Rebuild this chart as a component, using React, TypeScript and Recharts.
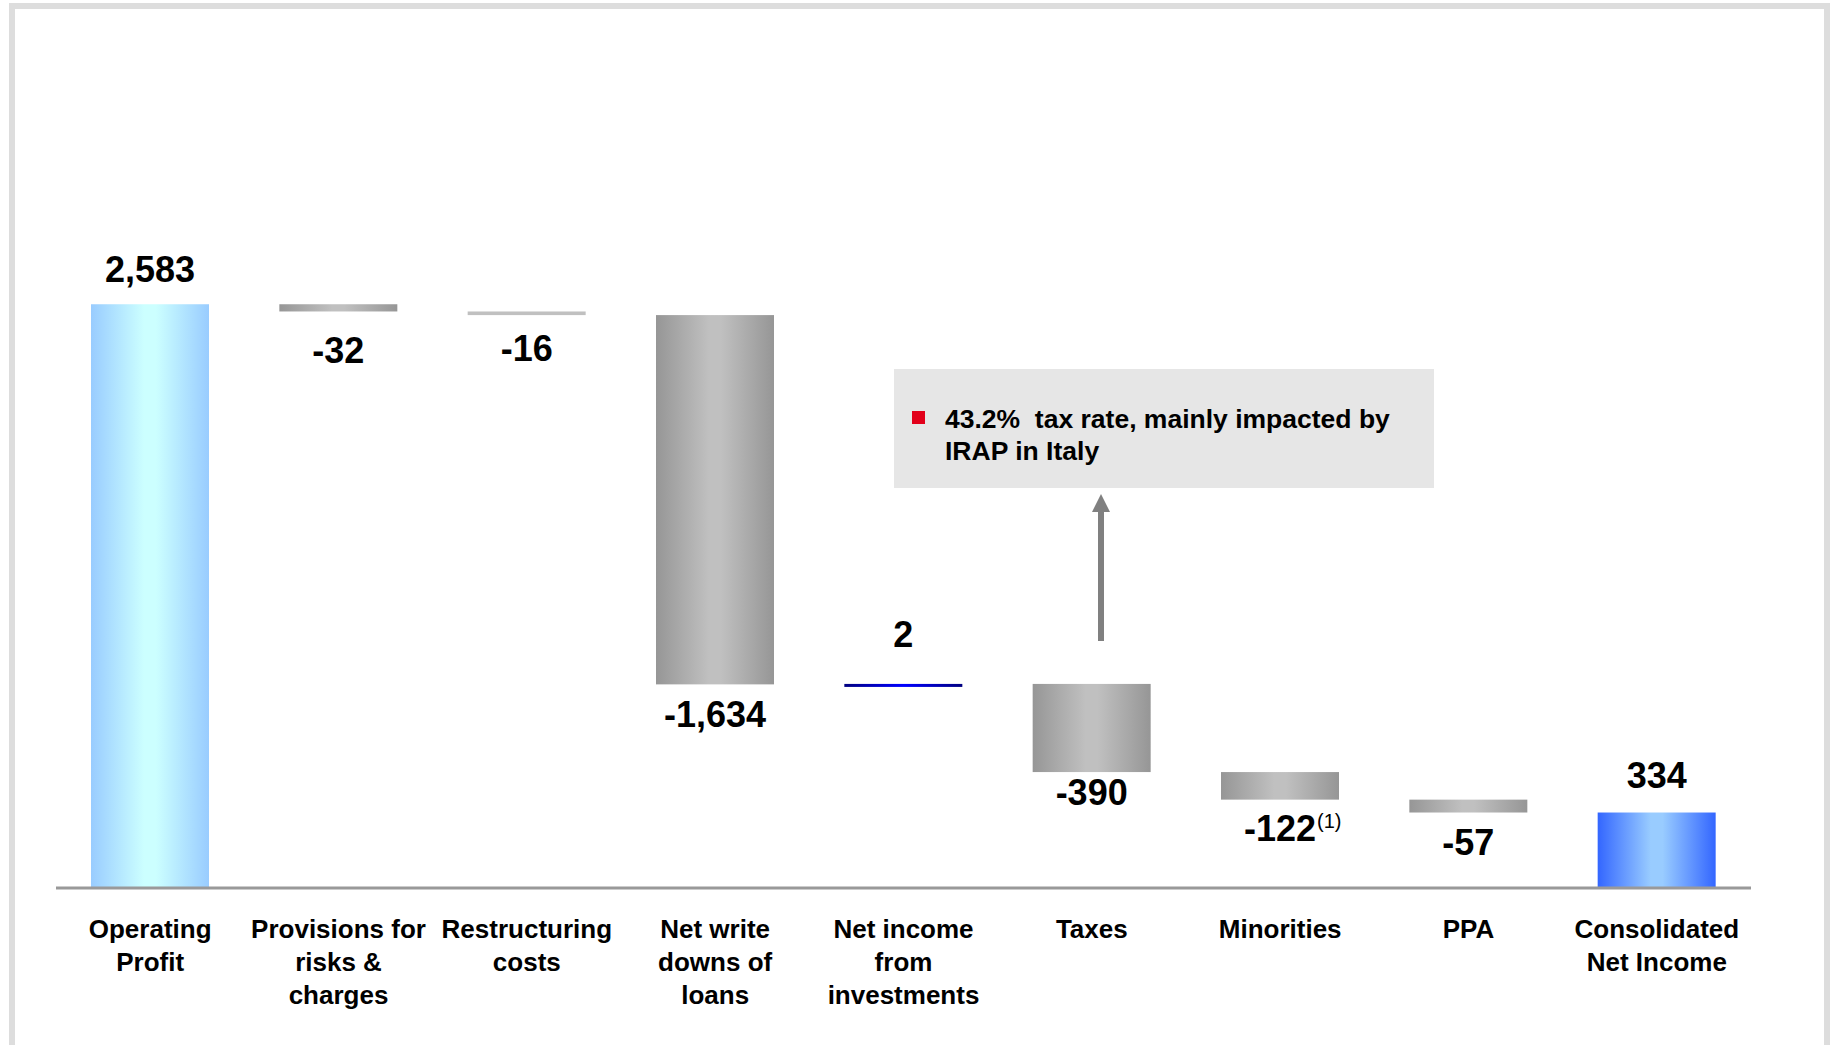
import React from "react";
import { Bar, BarChart, Cell, LabelList, XAxis, YAxis } from "recharts";

const categories = [
  "Operating\nProfit",
  "Provisions for\nrisks &\ncharges",
  "Restructuring\ncosts",
  "Net write\ndowns of\nloans",
  "Net income\nfrom\ninvestments",
  "Taxes",
  "Minorities",
  "PPA",
  "Consolidated\nNet Income",
];
const values = [2583, -32, -16, -1634, 2, -390, -122, -57, 334];
const isTotal = [true, false, false, false, false, false, false, false, true];
const footnotes = ["", "", "", "", "", "", "(1)", "", ""];
const calloutLines = ["43.2%  tax rate, mainly impacted by", "IRAP in Italy"];

// styling per bar, kept apart from the data
const barFills = ["opGrad", "grayGrad", "flatGray", "grayGrad", "blueLine", "grayGrad", "grayGrad", "grayGrad", "netGrad"];
const labelNudge = [0, 10, 4, 1, -15, -9, -1, 0, -3];

const FONT = '"Liberation Sans", Arial, sans-serif';

let running = 0;
const data = categories.map((name, i) => {
  const v = values[i];
  let low = 0;
  let high = v;
  if (isTotal[i]) {
    running = v;
  } else {
    const next = running + v;
    low = Math.min(running, next);
    high = Math.max(running, next);
    running = next;
  }
  return { name, base: low, size: high - low };
});

const fmt = (v: number) => (v < 0 ? "-" : "") + Math.abs(v).toLocaleString("en-US");

const WaterfallBar = (props: any) => {
  const { x, y, width, height, fill } = props;
  const h = Math.max(height, 3);
  return <rect x={x} y={y} width={width} height={h} fill={fill} />;
};

const ValueLabel = (props: any) => {
  const { x, y, width, height, index } = props;
  const v = values[index];
  const cx = x + width / 2;
  const cy = (v >= 0 ? y - 35 : y + Math.max(height, 3) + 29) + labelNudge[index];
  const base = cy + 13;
  const note = footnotes[index];
  return (
    <g>
      <text x={cx} y={base} textAnchor="middle" fontFamily={FONT} fontSize={36} fontWeight="bold" fill="#000">
        {fmt(v)}
      </text>
      {note ? (
        <text x={cx + 37} y={base - 13} textAnchor="start" fontFamily={FONT} fontSize={20} fill="#000">
          {note}
        </text>
      ) : null}
    </g>
  );
};

const CategoryTick = (props: any) => {
  const { x, y, payload } = props;
  const lines = String(payload.value).split("\n");
  return (
    <text textAnchor="middle" fontFamily={FONT} fontSize={26} fontWeight="bold" fill="#000">
      {lines.map((l, i) => (
        <tspan key={i} x={x} y={y + 50 + i * 33}>
          {l}
        </tspan>
      ))}
    </text>
  );
};

const App = () => {
  return (
    <div style={{ position: "absolute", left: 0, top: 0, width: 1832, height: 1045, overflow: "hidden", background: "#fff" }}>
      <div
        style={{
          position: "absolute",
          left: 9,
          top: 3,
          width: 1809,
          height: 1100,
          border: "6px solid #dddddd",
        }}
      />
      <div style={{ position: "absolute", left: 0, top: 0 }}>
        <BarChart width={1832} height={1045} data={data} margin={{ top: 210, right: 81, bottom: 37, left: 56 }} barSize={118}>
          <defs>
            <linearGradient id="opGrad" x1="0" y1="0" x2="1" y2="0">
              <stop offset="0%" stopColor="#99ccff" />
              <stop offset="45%" stopColor="#ccffff" />
              <stop offset="55%" stopColor="#ccffff" />
              <stop offset="100%" stopColor="#99ccff" />
            </linearGradient>
            <linearGradient id="grayGrad" x1="0" y1="0" x2="1" y2="0">
              <stop offset="0%" stopColor="#969696" />
              <stop offset="45%" stopColor="#c0c0c0" />
              <stop offset="55%" stopColor="#c0c0c0" />
              <stop offset="100%" stopColor="#969696" />
            </linearGradient>
            <linearGradient id="flatGray" x1="0" y1="0" x2="1" y2="0">
              <stop offset="0%" stopColor="#c0c0c0" />
              <stop offset="100%" stopColor="#c0c0c0" />
            </linearGradient>
            <linearGradient id="blueLine" x1="0" y1="0" x2="1" y2="0">
              <stop offset="0%" stopColor="#000080" />
              <stop offset="50%" stopColor="#0000ff" />
              <stop offset="100%" stopColor="#000080" />
            </linearGradient>
            <linearGradient id="netGrad" x1="0" y1="0" x2="1" y2="0">
              <stop offset="0%" stopColor="#3366ff" />
              <stop offset="45%" stopColor="#99ccff" />
              <stop offset="55%" stopColor="#99ccff" />
              <stop offset="100%" stopColor="#3366ff" />
            </linearGradient>
          </defs>
          <YAxis hide width={0} domain={[0, 3000]} />
          <XAxis
            dataKey="name"
            height={120}
            interval={0}
            tickLine={false}
            tickSize={0}
            tickMargin={0}
            axisLine={{ stroke: "#999999", strokeWidth: 3 }}
            tick={<CategoryTick />}
          />
          <Bar dataKey="base" stackId="w" fill="transparent" isAnimationActive={false} />
          <Bar dataKey="size" stackId="w" shape={<WaterfallBar />} isAnimationActive={false}>
            {data.map((d, i) => (
              <Cell key={d.name} fill={`url(#${barFills[i]})`} />
            ))}
            <LabelList dataKey="size" content={<ValueLabel />} />
          </Bar>
        </BarChart>
      </div>
      <div
        style={{
          position: "absolute",
          left: 894,
          top: 369,
          width: 540,
          height: 119,
          background: "#e6e6e6",
        }}
      />
      <div style={{ position: "absolute", left: 912, top: 411, width: 13, height: 13, background: "#e2001a" }} />
      <div
        style={{
          position: "absolute",
          left: 945,
          top: 403,
          fontFamily: FONT,
          fontSize: 26.5,
          fontWeight: "bold",
          lineHeight: "32px",
          whiteSpace: "pre",
          color: "#000",
        }}
      >
        {calloutLines.join("\n")}
      </div>
      <svg style={{ position: "absolute", left: 0, top: 0 }} width={1832} height={1045}>
        <line x1={1101} y1={510} x2={1101} y2={641} stroke="#808080" strokeWidth={6} />
        <polygon points="1092,512 1110,512 1101,494" fill="#808080" />
      </svg>
    </div>
  );
};

export default App;
